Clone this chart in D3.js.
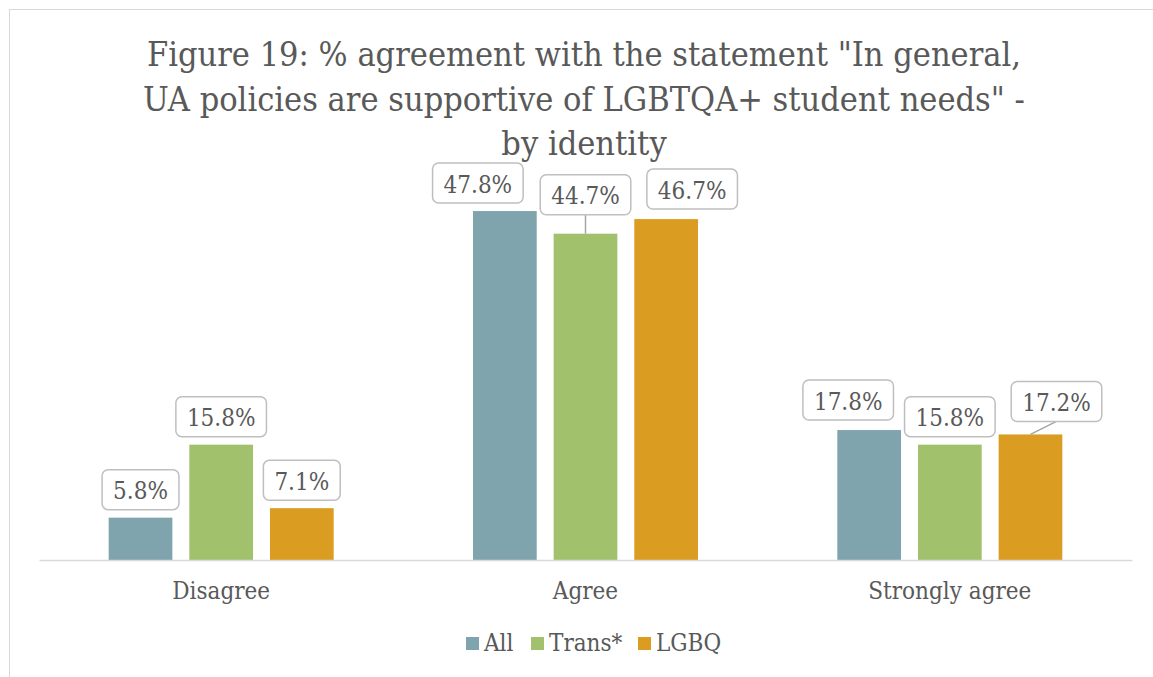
<!DOCTYPE html>
<html>
<head>
<meta charset="utf-8">
<script src="https://cdn.jsdelivr.net/npm/d3@7"></script>
<style>
  body { margin: 0; background: #fff; }
  text { font-family: 'DejaVu Serif', serif; font-stretch: condensed; fill: #595959; }
</style>
</head>
<body>
<div class="canvas"></div>
<script>
// chart data
const titleLines = [
    'Figure 19: % agreement with the statement "In general,',
    'UA policies are supportive of LGBTQA+ student needs" -',
    'by identity'
];
const categories = ['Disagree', 'Agree', 'Strongly agree'];
const seriesNames = ['All', 'Trans*', 'LGBQ'];
const allValues = [5.8, 47.8, 17.8];
const transValues = [15.8, 44.7, 15.8];
const lgbqValues = [7.1, 46.7, 17.2];
const seriesColours = ['#7fa4ad', '#a1c16c', '#db9d21'];

// manual callout nudges [dx, dy] per series per category (as moved in the original)
const labelNudge = [
    [[0, 0], [-27, 0], [-21, -2]],
    [[0, 0], [0, -11], [0, 0]],
    [[0, 0], [26, -2], [26, -5]]
];

const width = 1153, height = 677;
const seriesValues = [allValues, transValues, lgbqValues];

const svg = d3.select('.canvas')
    .append('svg')
        .attr('width', width)
        .attr('height', height);

// chart frame
svg.append('rect')
    .attr('x', 9.5)
    .attr('y', 9.5)
    .attr('width', 1160)
    .attr('height', 700)
    .attr('fill', 'none')
    .attr('stroke', '#d9d9d9')
    .attr('stroke-width', 1);

// title
svg.append('text')
    .attr('class', 'title')
    .attr('text-anchor', 'middle')
    .attr('font-size', 34)
    .selectAll('tspan')
    .data(titleLines)
    .enter()
    .append('tspan')
        .attr('x', 584)
        .attr('y', (d, i) => 66 + i * 44.5)
        .text(d => d);

// scales
const x0 = d3.scaleBand()
    .domain(categories)
    .range([39, 1132]);

const groupWidth = 225;
const x1 = d3.scaleBand()
    .domain(seriesNames)
    .range([(x0.bandwidth() - groupWidth) / 2, (x0.bandwidth() + groupWidth) / 2])
    .paddingInner(0.21);

const y = d3.scaleLinear()
    .domain([0, 50])
    .range([560, 195]);

// bars
const barData = [];
seriesNames.forEach((s, si) => {
    categories.forEach((c, ci) => {
        barData.push({ series: s, si, category: c, ci, value: seriesValues[si][ci] });
    });
});

const graph = svg.append('g');

graph.selectAll('rect.bar')
    .data(barData)
    .enter()
    .append('rect')
        .attr('class', 'bar')
        .attr('x', d => x0(d.category) + x1(d.series))
        .attr('y', d => y(d.value))
        .attr('width', x1.bandwidth())
        .attr('height', d => y(0) - y(d.value))
        .attr('fill', d => seriesColours[d.si]);

// category axis
const xAxis = svg.append('g')
    .attr('transform', `translate(0, ${y(0)})`)
    .call(d3.axisBottom(x0).tickSize(0).tickPadding(22));
xAxis.select('.domain')
    .attr('stroke', '#d9d9d9')
    .attr('stroke-width', 1.5);
xAxis.selectAll('text')
    .attr('font-size', 24)
    .attr('fill', '#595959')
    .style('font-family', "'DejaVu Serif', serif");

// data callouts
const boxH = 40, padX = 11, gap = 8;
const labels = graph.selectAll('g.callout')
    .data(barData)
    .enter()
    .append('g')
        .attr('class', 'callout');

labels.each(function(d) {
    const g = d3.select(this);
    const nudge = labelNudge[d.si][d.ci];
    const barCx = x0(d.category) + x1(d.series) + x1.bandwidth() / 2;
    const barTop = y(d.value);
    const cx = barCx + nudge[0];
    const bottom = barTop - gap + nudge[1];

    const txt = g.append('text')
        .attr('x', cx)
        .attr('y', bottom - 10.5)
        .attr('text-anchor', 'middle')
        .attr('font-size', 24)
        .text(d3.format('.1f')(d.value) + '%');
    const w = txt.node().getComputedTextLength() + 2 * padX;

    if (nudge[1] < -3) {
        g.insert('line', 'text')
            .attr('x1', cx)
            .attr('y1', bottom)
            .attr('x2', barCx)
            .attr('y2', barTop)
            .attr('stroke', '#a6a6a6')
            .attr('stroke-width', 1.5);
    }

    g.insert('rect', 'text')
        .attr('x', cx - w / 2)
        .attr('y', bottom - boxH)
        .attr('width', w)
        .attr('height', boxH)
        .attr('rx', 6)
        .attr('fill', '#fff')
        .attr('stroke', '#bfbfbf')
        .attr('stroke-width', 1.5);
});

// legend
const legendX = [466, 531, 638];
const legend = svg.selectAll('g.legend')
    .data(seriesNames)
    .enter()
    .append('g')
        .attr('class', 'legend')
        .attr('transform', (d, i) => `translate(${legendX[i]}, 651)`);

legend.append('rect')
    .attr('x', 0)
    .attr('y', -14)
    .attr('width', 13)
    .attr('height', 13)
    .attr('fill', (d, i) => seriesColours[i]);

legend.append('text')
    .attr('x', 18)
    .attr('y', 0)
    .attr('font-size', 24)
    .text(d => d);
</script>
</body>
</html>
